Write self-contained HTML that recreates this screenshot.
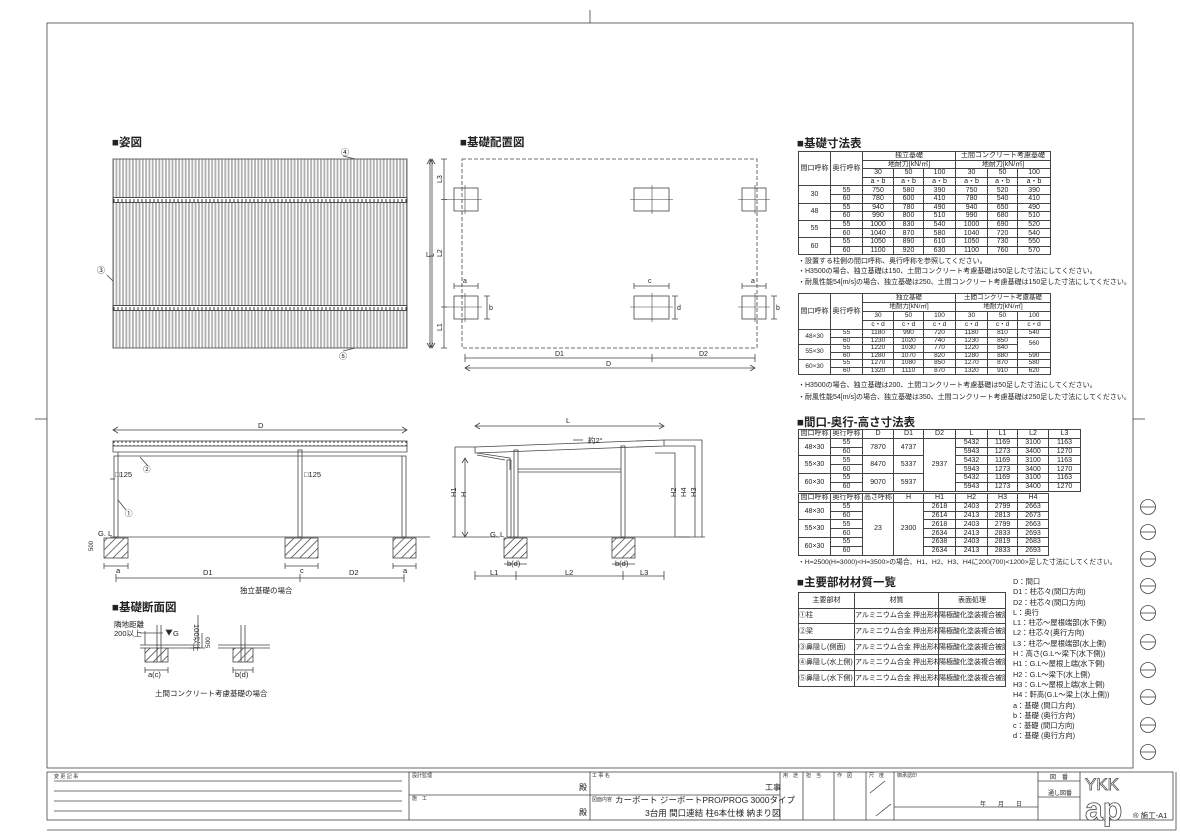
<!DOCTYPE html>
<html><head><meta charset="utf-8">
<style>
body{margin:0;background:#fff;width:1181px;height:835px;overflow:hidden;position:relative;font-family:"Liberation Sans","Noto Sans CJK JP",sans-serif;color:#222}
svg{position:absolute;left:0;top:0}
table{position:absolute;border-collapse:collapse;table-layout:fixed;font-size:7px;line-height:1}
td{border:0.8px solid #444;text-align:center;padding:0;overflow:hidden;white-space:nowrap}
.t1 td{height:7.6px}
.t2 td{height:6.3px;font-size:6.5px}
.t2 tr.hd td{height:8px}
.t3 td{height:7.8px}
.t5 td{height:14.6px;text-align:left;font-size:7px}
.h{position:absolute;font-size:11.5px;font-weight:bold;white-space:nowrap}
.n{position:absolute;font-size:7px;white-space:nowrap}
</style></head><body>
<svg width="1181" height="835" viewBox="0 0 1181 835" font-family="Liberation Sans, Noto Sans CJK JP, sans-serif" fill="none" stroke="#444" stroke-width="0.8">
<defs>
<pattern id="st" width="3.3" height="10" patternUnits="userSpaceOnUse"><rect width="3.3" height="10" fill="#b0b0b0" stroke="none"/><rect x="1.8" width="1.5" height="10" fill="#fff" stroke="none"/></pattern>
<pattern id="ht" width="6" height="6" patternUnits="userSpaceOnUse" patternTransform="rotate(45)"><line x1="0" y1="0" x2="0" y2="6" stroke="#333" stroke-width="1.4"/></pattern>
<pattern id="tk" width="4" height="6" patternUnits="userSpaceOnUse"><line x1="2" y1="1" x2="2" y2="5" stroke="#333" stroke-width="1"/></pattern>
</defs>
<line x1="590" y1="10" x2="590" y2="23"/>
<rect x="47" y="23" width="1086" height="745"/>
<line x1="35" y1="419" x2="47" y2="419"/><line x1="1133" y1="419" x2="1145" y2="419"/>
<line x1="47" y1="830" x2="1176" y2="830"/><line x1="1176" y1="772" x2="1176" y2="830"/>
<g>
<circle cx="1148" cy="507" r="7.5"/><line x1="1140.5" y1="507" x2="1155.5" y2="507"/>
<circle cx="1148" cy="532" r="7.5"/><line x1="1140.5" y1="532" x2="1155.5" y2="532"/>
<circle cx="1148" cy="559" r="7.5"/><line x1="1140.5" y1="559" x2="1155.5" y2="559"/>
<circle cx="1148" cy="586" r="7.5"/><line x1="1140.5" y1="586" x2="1155.5" y2="586"/>
<circle cx="1148" cy="613" r="7.5"/><line x1="1140.5" y1="613" x2="1155.5" y2="613"/>
<circle cx="1148" cy="642" r="7.5"/><line x1="1140.5" y1="642" x2="1155.5" y2="642"/>
<circle cx="1148" cy="670" r="7.5"/><line x1="1140.5" y1="670" x2="1155.5" y2="670"/>
<circle cx="1148" cy="697" r="7.5"/><line x1="1140.5" y1="697" x2="1155.5" y2="697"/>
<circle cx="1148" cy="725" r="7.5"/><line x1="1140.5" y1="725" x2="1155.5" y2="725"/>
<circle cx="1148" cy="752" r="7.5"/><line x1="1140.5" y1="752" x2="1155.5" y2="752"/>
</g>
<rect x="47" y="772" width="1126" height="48"/>
<line x1="54" y1="781" x2="402" y2="781"/><line x1="54" y1="791" x2="402" y2="791"/><line x1="54" y1="801" x2="402" y2="801"/><line x1="54" y1="811" x2="402" y2="811"/>
<line x1="409" y1="772" x2="409" y2="820"/><line x1="590" y1="772" x2="590" y2="820"/><line x1="409" y1="795" x2="780" y2="795"/>
<line x1="780" y1="772" x2="780" y2="820"/><line x1="803" y1="772" x2="803" y2="820"/><line x1="834" y1="772" x2="834" y2="820"/><line x1="866" y1="772" x2="866" y2="820"/><line x1="894" y1="772" x2="894" y2="820"/><line x1="1038" y1="772" x2="1038" y2="820"/><line x1="1080" y1="772" x2="1080" y2="820"/>
<line x1="1038" y1="781" x2="1080" y2="781"/><line x1="1038" y1="797" x2="1080" y2="797"/><line x1="894" y1="807" x2="1038" y2="807"/>
<line x1="870" y1="793" x2="885" y2="781"/><line x1="876" y1="816" x2="891" y2="804"/>
<g fill="#333" stroke="none" font-size="5">
<text x="54" y="778">変 更 記 事</text><text x="412" y="777">設計監理</text><text x="412" y="800">施　工</text>
<text x="592" y="777">工 事 名</text><text x="592" y="801">図面内容</text>
<text x="783" y="777">用　途</text><text x="806" y="777">担　当</text><text x="837" y="777">作　図</text><text x="869" y="777">尺　度</text><text x="897" y="777">御承認印</text>
<text x="980" y="806" font-size="6">年　　月　　日</text>
</g>
<g fill="#222" stroke="none" font-size="8">
<text x="579" y="790">殿</text><text x="579" y="815">殿</text><text x="765" y="790">工事</text>
<text x="615" y="803" font-size="8.5">カーボート ジーボートPRO/PROG 3000タイプ</text>
<text x="645" y="816" font-size="8.5">3台用 間口連結 柱6本仕様 納まり図</text>
<text x="1050" y="779" font-size="6">図　番</text><text x="1048" y="795" font-size="6">通し図番</text>
<text x="1085" y="790" font-size="17" fill="#fff" stroke="#444" stroke-width="0.7">YKK</text>
<text x="1085" y="820" font-size="32" fill="#fff" stroke="#444" stroke-width="0.8" font-weight="bold">ap</text>
<text x="1133" y="818" font-size="7.5">® 施工-A1</text>
</g>

<rect x="113" y="159" width="294" height="189" fill="url(#st)"/>
<rect x="113" y="197.5" width="294" height="5" fill="#fff"/><rect x="113" y="197.5" width="294" height="5" fill="url(#tk)"/>
<rect x="113" y="305.5" width="294" height="5" fill="#fff"/><rect x="113" y="305.5" width="294" height="5" fill="url(#tk)"/>
<line x1="430" y1="159" x2="430" y2="348"/><path d="M427 164 L430 159 L433 164 M427 343 L430 348 L433 343"/>
<line x1="343" y1="156" x2="355" y2="159"/><line x1="107" y1="275" x2="113" y2="281"/><line x1="343" y1="351" x2="355" y2="348"/>
<g fill="#222" stroke="none" font-size="8"><text x="341" y="155">④</text><text x="97" y="273">③</text><text x="339" y="359">⑤</text><text x="426" y="257" font-size="7">L</text></g>

<rect x="462" y="159" width="295" height="189" stroke-dasharray="4,2"/>
<g>
<rect x="454" y="188" width="24" height="23"/><rect x="634" y="188" width="35" height="23"/><rect x="742" y="188" width="24" height="23"/>
<rect x="454" y="296" width="24" height="23"/><rect x="634" y="296" width="35" height="23"/><rect x="742" y="296" width="24" height="23"/>
<path d="M445 199.5H482 M465 185V214 M630 199.5H673 M652 185V214 M738 199.5H770 M755 185V214 M445 307H482 M465 293V322 M630 307H673 M652 293V322 M738 307H770 M755 293V322" stroke-width="0.6"/>
<path d="M454 286H478 M454 283V289 M478 283V289 M634 286H669 M634 283V289 M669 283V289 M742 286H766 M742 283V289 M766 283V289"/>
<path d="M487 296V319 M484 296H490 M484 319H490 M675 296V319 M672 296H678 M672 319H678 M774 296V319 M771 296H777 M771 319H777"/>
<path d="M432 159V348 M429 164L432 159L435 164 M429 343L432 348L435 343 M444 159V348 M441 159H447 M441 199.5H447 M441 307H447 M441 348H447"/>
<path d="M465 358H755 M465 354V362 M652 354V362 M755 354V362 M465 368H755 M470 365L465 368L470 371 M750 365L755 368L750 371"/>
</g>
<g fill="#222" stroke="none" font-size="7">
<text x="463" y="283">a</text><text x="648" y="283">c</text><text x="751" y="283">a</text>
<text x="489" y="310">b</text><text x="677" y="310">d</text><text x="776" y="310">b</text>
<text x="436" y="183" transform="rotate(-90 439 180)">L3</text><text x="436" y="257" transform="rotate(-90 439 254)">L2</text><text x="436" y="331" transform="rotate(-90 439 328)">L1</text>
<text x="428" y="257" transform="rotate(-90 431 254)">L</text>
<text x="555" y="356">D1</text><text x="699" y="356">D2</text><text x="606" y="366">D</text>
</g>

<path d="M113 430H407 M118 427L113 430L118 433 M402 427L407 430L402 433"/>
<rect x="113" y="441" width="294" height="5" fill="url(#tk)"/>
<path d="M113 446V452H407V446 M118 452V456H402 M118 456H402"/>
<rect x="114" y="456" width="4" height="81"/><rect x="298" y="450" width="4" height="87"/><rect x="402" y="456" width="4" height="81"/>
<path d="M110 537H430"/>
<rect x="104" y="538" width="24" height="20" fill="url(#ht)"/><rect x="285" y="538" width="33" height="20" fill="url(#ht)"/><rect x="393" y="538" width="23" height="20" fill="url(#ht)"/>
<path d="M104 566H128 M104 563V569 M128 563V569 M285 566H318 M285 563V569 M318 563V569 M393 566H416 M393 563V569 M416 563V569"/>
<path d="M116 578H404 M116 574V582 M300 574V582 M404 574V582"/>
<line x1="140" y1="457" x2="148" y2="466"/><line x1="118" y1="500" x2="126" y2="510"/>
<g fill="#222" stroke="none" font-size="7.5">
<text x="258" y="428">D</text><text x="143" y="472">②</text><text x="125" y="516">①</text>
<text x="115" y="477">□125</text><line x1="110" y1="479" x2="115" y2="479" stroke="#444"/><text x="304" y="477">□125</text>
<text x="98" y="536">G. L</text><text x="86" y="550" font-size="6" transform="rotate(-90 90 547)">500</text>
<text x="116" y="573">a</text><text x="300" y="573">c</text><text x="403" y="573">a</text>
<text x="203" y="575">D1</text><text x="349" y="575">D2</text>
<text x="240" y="593">独立基礎の場合</text>
</g>

<path d="M475 426H664 M480 423L475 426L480 429 M659 423L664 426L659 429"/>
<path d="M475 447L664 440L664 446L475 453Z"/>
<path d="M477 453L510 458V470 M477 455L505 460"/>
<rect x="507" y="460" width="4" height="77"/><rect x="514" y="450" width="4" height="87"/><rect x="621" y="446" width="4" height="91"/>
<path d="M518 469H621 M518 472H621"/>
<path d="M455 447H475 M455 447V537 M452 537H500 M465 458V537 M462 463L465 458L468 463 M462 532L465 537L468 532 M510 537H690"/>
<path d="M664 446H695V537 M655 453H675V537 M664 440H702V537 M677 537H705"/>
<rect x="504" y="538" width="23" height="20" fill="url(#ht)"/><rect x="612" y="538" width="23" height="20" fill="url(#ht)"/>
<path d="M504 564H527 M612 564H635 M475 576H664 M475 571V580 M516 571V580 M623 571V580 M664 571V580"/>
<path d="M573 440 L583 440" />
<g fill="#222" stroke="none" font-size="7.5">
<text x="566" y="423">L</text><text x="588" y="443">約2°</text>
<text x="490" y="537">G. L</text>
<text x="507" y="566">b(d)</text><text x="615" y="566">b(d)</text>
<text x="490" y="575">L1</text><text x="565" y="575">L2</text><text x="640" y="575">L3</text>
<text x="453" y="500" transform="rotate(-90 453 497)">H1</text><text x="463" y="500" transform="rotate(-90 463 497)">H</text>
<text x="673" y="500" transform="rotate(-90 673 497)">H2</text><text x="683" y="500" transform="rotate(-90 683 497)">H4</text><text x="693" y="500" transform="rotate(-90 693 497)">H3</text>
</g>

<path d="M140 645H200 M140 648H145 M168 648H200 M218 645H270 M218 648H233 M253 648H270"/>
<rect x="145" y="648" width="23" height="14" fill="url(#ht)"/><rect x="233" y="648" width="20" height="14" fill="url(#ht)"/>
<path d="M157 625V662 M161 625V662 M241 625V662 M245 625V662 M145 670H168 M145 667V673 M168 667V673 M233 670H253 M233 667V673 M253 667V673"/>
<path d="M145 631V645 M140 633H163 M198 615V648 M190 648H205 M202 633V648"/>
<path d="M166 630L172 630L169 635Z" fill="#222"/>
<g fill="#222" stroke="none" font-size="7.5">
<text x="112" y="611" font-size="11.5" font-weight="bold">■基礎断面図</text>
<text x="114" y="627">隣地距離</text><text x="114" y="636">200以上</text>
<text x="173" y="636">G</text>
<text x="196" y="626" transform="rotate(90 196 624)">100以上</text>
<text x="204" y="648" transform="rotate(-90 207 645)" font-size="6.5">500</text>
<text x="148" y="677">a(c)</text><text x="235" y="677">b(d)</text>
<text x="155" y="696">土間コンクリート考慮基礎の場合</text>
</g>
</svg>

<div class="h" style="left:112px;top:134px">■姿図</div>
<div class="h" style="left:460px;top:134px">■基礎配置図</div>
<div class="h" style="left:797px;top:135px">■基礎寸法表</div>

<table class="t1" style="left:798px;top:151px;width:252px">
<colgroup><col style="width:32px"><col style="width:32px"><col style="width:31px"><col style="width:30px"><col style="width:32px"><col style="width:32px"><col style="width:30px"><col style="width:33px"></colgroup>
<tr><td rowspan="4">間口呼称</td><td rowspan="4">奥行呼称</td><td colspan="3">独立基礎</td><td colspan="3">土間コンクリート考慮基礎</td></tr>
<tr><td colspan="3">地耐力[kN/㎡]</td><td colspan="3">地耐力[kN/㎡]</td></tr>
<tr><td>30</td><td>50</td><td>100</td><td>30</td><td>50</td><td>100</td></tr>
<tr><td>a・b</td><td>a・b</td><td>a・b</td><td>a・b</td><td>a・b</td><td>a・b</td></tr>
<tr><td rowspan="2">30</td><td>55</td><td>750</td><td>580</td><td>390</td><td>750</td><td>520</td><td>390</td></tr>
<tr><td>60</td><td>780</td><td>600</td><td>410</td><td>780</td><td>540</td><td>410</td></tr>
<tr><td rowspan="2">48</td><td>55</td><td>940</td><td>780</td><td>490</td><td>940</td><td>650</td><td>490</td></tr>
<tr><td>60</td><td>990</td><td>800</td><td>510</td><td>990</td><td>680</td><td>510</td></tr>
<tr><td rowspan="2">55</td><td>55</td><td>1000</td><td>830</td><td>540</td><td>1000</td><td>690</td><td>520</td></tr>
<tr><td>60</td><td>1040</td><td>870</td><td>580</td><td>1040</td><td>720</td><td>540</td></tr>
<tr><td rowspan="2">60</td><td>55</td><td>1050</td><td>890</td><td>610</td><td>1050</td><td>730</td><td>550</td></tr>
<tr><td>60</td><td>1100</td><td>920</td><td>630</td><td>1100</td><td>760</td><td>570</td></tr>
</table>
<div class="n" style="left:798px;top:256px">・設置する柱側の間口呼称、奥行呼称を参照してください。</div>
<div class="n" style="left:798px;top:266px">・H3500の場合、独立基礎は150、土間コンクリート考慮基礎は50足した寸法にしてください。</div>
<div class="n" style="left:798px;top:277px">・耐風性能54[m/s]の場合、独立基礎は250、土間コンクリート考慮基礎は150足した寸法にしてください。</div>

<table class="t2" style="left:798px;top:293px;width:252px">
<colgroup><col style="width:32px"><col style="width:32px"><col style="width:31px"><col style="width:30px"><col style="width:32px"><col style="width:32px"><col style="width:30px"><col style="width:33px"></colgroup>
<tr class="hd"><td rowspan="4" style="font-size:7px">間口呼称</td><td rowspan="4" style="font-size:7px">奥行呼称</td><td colspan="3">独立基礎</td><td colspan="3">土間コンクリート考慮基礎</td></tr>
<tr class="hd"><td colspan="3">地耐力[kN/㎡]</td><td colspan="3">地耐力[kN/㎡]</td></tr>
<tr class="hd"><td>30</td><td>50</td><td>100</td><td>30</td><td>50</td><td>100</td></tr>
<tr class="hd"><td>c・d</td><td>c・d</td><td>c・d</td><td>c・d</td><td>c・d</td><td>c・d</td></tr>
<tr><td rowspan="2">48×30</td><td>55</td><td>1180</td><td>990</td><td>720</td><td>1180</td><td>810</td><td>540</td></tr>
<tr><td>60</td><td>1230</td><td>1020</td><td>740</td><td>1230</td><td>850</td><td rowspan="2">560</td></tr>
<tr><td rowspan="2">55×30</td><td>55</td><td>1220</td><td>1030</td><td>770</td><td>1220</td><td>840</td></tr>
<tr><td>60</td><td>1280</td><td>1070</td><td>820</td><td>1280</td><td>880</td><td>590</td></tr>
<tr><td rowspan="2">60×30</td><td>55</td><td>1270</td><td>1080</td><td>850</td><td>1270</td><td>870</td><td>580</td></tr>
<tr><td>60</td><td>1320</td><td>1110</td><td>870</td><td>1320</td><td>910</td><td>620</td></tr>
</table>
<div class="n" style="left:798px;top:380px">・H3500の場合、独立基礎は200、土間コンクリート考慮基礎は50足した寸法にしてください。</div>
<div class="n" style="left:798px;top:392px">・耐風性能54[m/s]の場合、独立基礎は350、土間コンクリート考慮基礎は250足した寸法にしてください。</div>

<div class="h" style="left:797px;top:414px">■間口-奥行-高さ寸法表</div>
<table class="t1 t3" style="left:798px;top:429px;width:282px">
<colgroup><col style="width:32px"><col style="width:32px"><col style="width:31px"><col style="width:30px"><col style="width:32px"><col style="width:32px"><col style="width:30px"><col style="width:31px"><col style="width:32px"></colgroup>
<tr><td style="height:6px">間口呼称</td><td>奥行呼称</td><td>D</td><td>D1</td><td>D2</td><td>L</td><td>L1</td><td>L2</td><td>L3</td></tr>
<tr><td rowspan="2">48×30</td><td>55</td><td rowspan="2">7870</td><td rowspan="2">4737</td><td rowspan="6">2937</td><td>5432</td><td>1169</td><td>3100</td><td>1163</td></tr>
<tr><td>60</td><td>5943</td><td>1273</td><td>3400</td><td>1270</td></tr>
<tr><td rowspan="2">55×30</td><td>55</td><td rowspan="2">8470</td><td rowspan="2">5337</td><td>5432</td><td>1169</td><td>3100</td><td>1163</td></tr>
<tr><td>60</td><td>5943</td><td>1273</td><td>3400</td><td>1270</td></tr>
<tr><td rowspan="2">60×30</td><td>55</td><td rowspan="2">9070</td><td rowspan="2">5937</td><td>5432</td><td>1169</td><td>3100</td><td>1163</td></tr>
<tr><td>60</td><td>5943</td><td>1273</td><td>3400</td><td>1270</td></tr>
</table>
<table class="t1 t3" style="left:798px;top:493px;width:250px">
<colgroup><col style="width:32px"><col style="width:32px"><col style="width:31px"><col style="width:30px"><col style="width:32px"><col style="width:32px"><col style="width:30px"><col style="width:31px"></colgroup>
<tr><td style="height:6px">間口呼称</td><td>奥行呼称</td><td>高さ呼称</td><td>H</td><td>H1</td><td>H2</td><td>H3</td><td>H4</td></tr>
<tr><td rowspan="2">48×30</td><td>55</td><td rowspan="6">23</td><td rowspan="6">2300</td><td>2618</td><td>2403</td><td>2799</td><td>2663</td></tr>
<tr><td>60</td><td>2614</td><td>2413</td><td>2813</td><td>2673</td></tr>
<tr><td rowspan="2">55×30</td><td>55</td><td>2618</td><td>2403</td><td>2799</td><td>2663</td></tr>
<tr><td>60</td><td>2634</td><td>2413</td><td>2833</td><td>2693</td></tr>
<tr><td rowspan="2">60×30</td><td>55</td><td>2638</td><td>2403</td><td>2819</td><td>2683</td></tr>
<tr><td>60</td><td>2634</td><td>2413</td><td>2833</td><td>2693</td></tr>
</table>
<div class="n" style="left:798px;top:556px;font-size:6.8px">・H=2500(H=3000)&lt;H=3500&gt;の場合、H1、H2、H3、H4に200(700)&lt;1200&gt;足した寸法にしてください。</div>

<div class="h" style="left:797px;top:574px">■主要部材材質一覧</div>
<table class="t1 t5" style="left:798px;top:592px;width:207px">
<colgroup><col style="width:56px"><col style="width:84px"><col style="width:67px"></colgroup>
<tr><td style="height:8px;text-align:center">主要部材</td><td style="text-align:center">材質</td><td style="text-align:center">表面処理</td></tr>
<tr><td>①柱</td><td>アルミニウム合金 押出形材</td><td>陽極酸化塗装複合被膜</td></tr>
<tr><td>②梁</td><td>アルミニウム合金 押出形材</td><td>陽極酸化塗装複合被膜</td></tr>
<tr><td>③鼻隠し(側面)</td><td>アルミニウム合金 押出形材</td><td>陽極酸化塗装複合被膜</td></tr>
<tr><td>④鼻隠し(水上側)</td><td>アルミニウム合金 押出形材</td><td>陽極酸化塗装複合被膜</td></tr>
<tr><td>⑤鼻隠し(水下側)</td><td>アルミニウム合金 押出形材</td><td>陽極酸化塗装複合被膜</td></tr>
</table>
<div class="n" style="left:1013px;top:577px;font-size:7.3px;line-height:10.3px">D：間口<br>D1：柱芯々(間口方向)<br>D2：柱芯々(間口方向)<br>L：奥行<br>L1：柱芯～屋根端部(水下側)<br>L2：柱芯々(奥行方向)<br>L3：柱芯～屋根端部(水上側)<br>H：高さ(G.L～梁下(水下側))<br>H1：G.L～屋根上端(水下側)<br>H2：G.L～梁下(水上側)<br>H3：G.L～屋根上端(水上側)<br>H4：軒高(G.L～梁上(水上側))<br>a：基礎 (間口方向)<br>b：基礎 (奥行方向)<br>c：基礎 (間口方向)<br>d：基礎 (奥行方向)</div>
</body></html>
